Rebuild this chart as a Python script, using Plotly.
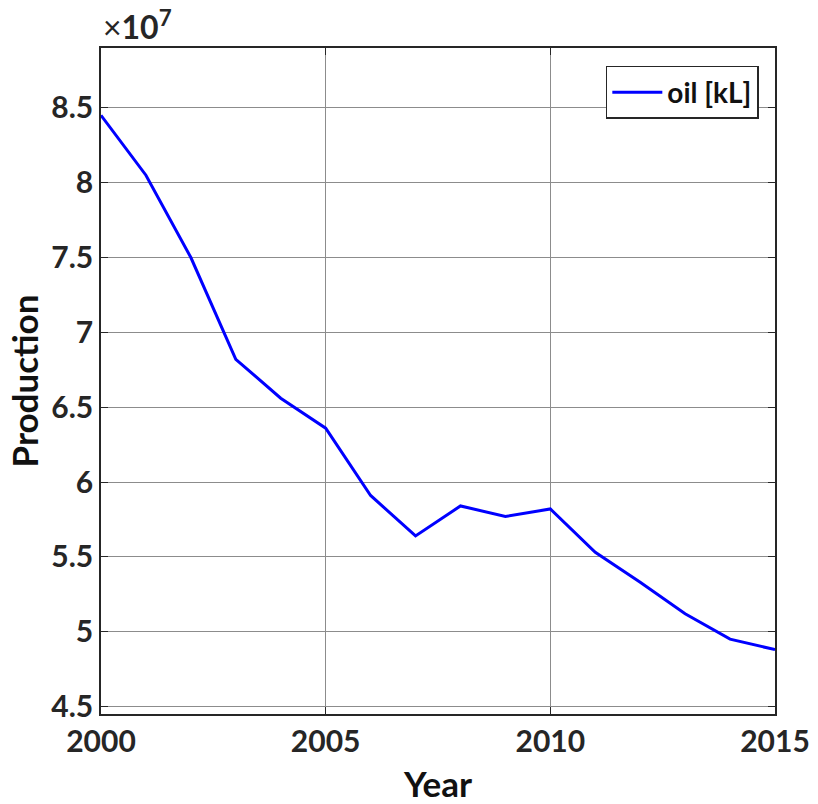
import plotly.graph_objects as go

# Annual oil production, kL
years = list(range(2000, 2016))
oil_kl = [84.5e6, 80.5e6, 75.0e6, 68.2e6, 65.6e6, 63.6e6, 59.1e6, 56.4e6,
          58.4e6, 57.7e6, 58.2e6, 55.3e6, 53.3e6, 51.2e6, 49.5e6, 48.8e6]

y_ticks = [4.5e7, 5e7, 5.5e7, 6e7, 6.5e7, 7e7, 7.5e7, 8e7, 8.5e7]
y_tick_text = ["4.5", "5", "5.5", "6", "6.5", "7", "7.5", "8", "8.5"]
x_ticks = [2000, 2005, 2010, 2015]

FONT = "Lato"
AXIS_COLOR = "#262626"

fig = go.Figure()
fig.add_trace(go.Scatter(
    x=years, y=oil_kl, mode="lines", name="<b>oil [kL]</b>",
    line=dict(color="#0000ff", width=3),
))

axis_common = dict(
    showline=True, linecolor=AXIS_COLOR, linewidth=1.5, mirror="allticks",
    ticks="inside", ticklen=7, tickcolor=AXIS_COLOR, tickwidth=1,
    showgrid=True, gridcolor="#8c8c8c", gridwidth=1, zeroline=False,
    tickfont=dict(family=FONT, size=30, color=AXIS_COLOR),
    automargin=False,
)

fig.update_xaxes(
    range=[2000, 2015], tickvals=x_ticks,
    ticktext=[f"<b>{v}</b>" for v in x_ticks],
    title=dict(text="<b>Year</b>", font=dict(family=FONT, size=35, color="#111111"), standoff=16),
    **axis_common,
)
fig.update_yaxes(
    range=[4.45e7, 8.9e7], tickvals=y_ticks,
    ticktext=[f"<b>{t}</b>" for t in y_tick_text],
    title=dict(text="<b>Production</b>", font=dict(family=FONT, size=35, color="#111111"), standoff=2),
    **axis_common,
)

fig.add_annotation(
    xref="paper", yref="paper", x=0, y=1, xanchor="left", yanchor="bottom",
    xshift=0, yshift=0, showarrow=False,
    text="<span style='font-weight:normal;font-size:32px'>×</span><b>10<sup>7</sup></b>",
    font=dict(family=FONT, size=32, color=AXIS_COLOR),
)

fig.update_layout(
    width=818, height=804,
    margin=dict(l=101, r=43, t=48, b=90, autoexpand=False),
    paper_bgcolor="white", plot_bgcolor="white",
    showlegend=True,
    legend=dict(
        x=0.976, y=0.973, xanchor="right", yanchor="top",
        bgcolor="white", bordercolor=AXIS_COLOR, borderwidth=1.5,
        font=dict(family=FONT, size=28, color="#111111"),
        itemwidth=50, tracegroupgap=0,
    ),
)

fig.write_html("out.html")
